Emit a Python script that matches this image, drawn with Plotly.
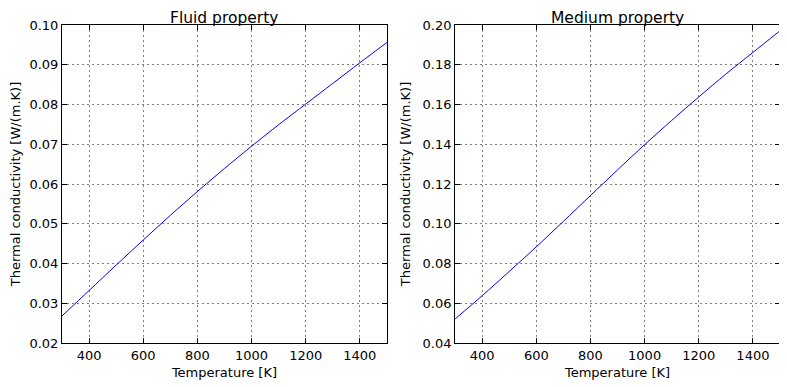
import plotly.graph_objects as go
from plotly.subplots import make_subplots

temperature = [300, 400, 500, 600, 700, 800, 900, 1000, 1100, 1200, 1300, 1400, 1500]
fluid_k = [0.0268, 0.0332, 0.0396, 0.0459, 0.0521, 0.0581, 0.0639, 0.0695, 0.0749, 0.0801, 0.0853, 0.0905, 0.0956]
medium_k = [0.0521, 0.0638, 0.0760, 0.0884, 0.1012, 0.1142, 0.1271, 0.1398, 0.1520, 0.1638, 0.1753, 0.1862, 0.1971]

titles = ["Fluid property", "Medium property"]
xlabel = "Temperature [K]"
ylabel = "Thermal conductivity [W/(m.K)]"

# page body has an 8px margin, so the figure is drawn 8px right/down
OFF = 8
W, H = 787 - OFF, 387 - OFF
FONT = "DejaVu Sans"

L, R, T, B = 61.5 - OFF, 779.7 - OFF, 25.3 - OFF, 343.3 - OFF
PW = R - L
xdoms = [[0, 325 / PW], [(454.7 - 61.5) / PW, 1]]

fig = make_subplots(rows=1, cols=2)
fig.add_trace(go.Scatter(x=temperature, y=fluid_k, mode="lines",
                         line=dict(color="#0000ff", width=1, shape="spline", smoothing=0.8),
                         showlegend=False), row=1, col=1)
fig.add_trace(go.Scatter(x=temperature, y=medium_k, mode="lines",
                         line=dict(color="#0000ff", width=1, shape="spline", smoothing=0.8),
                         showlegend=False), row=1, col=2)

grid = dict(showgrid=True, gridcolor="rgba(0,0,0,0.5)", griddash="2px,3px", gridwidth=1)
common_x = dict(range=[300, 1500], tickvals=[400, 600, 800, 1000, 1200, 1400],
                ticks="inside", ticklen=5, tickcolor="black", mirror="ticks",
                showline=True, linecolor="black", linewidth=1, automargin=False,
                zeroline=False, tickfont=dict(family=FONT, size=13, color="black"),
                title=dict(text=xlabel, font=dict(family=FONT, size=13, color="black"), standoff=6),
                **grid)
common_y = dict(ticks="inside", ticklen=5, tickcolor="black", mirror="ticks",
                showline=True, linecolor="black", linewidth=1, automargin=False,
                zeroline=False, tickfont=dict(family=FONT, size=13, color="black"),
                title=dict(text=ylabel, font=dict(family=FONT, size=13, color="black"), standoff=8),
                **grid)

fig.update_layout(
    xaxis=dict(domain=xdoms[0], **common_x),
    xaxis2=dict(domain=xdoms[1], **common_x),
    yaxis=dict(domain=[0, 1], range=[0.02, 0.10], tickvals=[0.02, 0.03, 0.04, 0.05, 0.06, 0.07, 0.08, 0.09, 0.10],
               tickformat=".2f", **common_y),
    yaxis2=dict(domain=[0, 1], range=[0.04, 0.20], tickvals=[0.04, 0.06, 0.08, 0.10, 0.12, 0.14, 0.16, 0.18, 0.20],
                tickformat=".2f", **common_y),
    width=W, height=H, margin=dict(l=L, r=W - R, t=T, b=H - B, pad=0, autoexpand=False),
    paper_bgcolor="white", plot_bgcolor="white",
    font=dict(family=FONT, color="black"),
)

for i, t in enumerate(titles):
    fig.add_annotation(text=t, x=(xdoms[i][0] + xdoms[i][1]) / 2, y=1, yshift=-4,
                       xref="paper", yref="paper", showarrow=False,
                       xanchor="center", yanchor="bottom",
                       font=dict(family=FONT, size=15.5, color="black"))

fig.write_html("out.html")
